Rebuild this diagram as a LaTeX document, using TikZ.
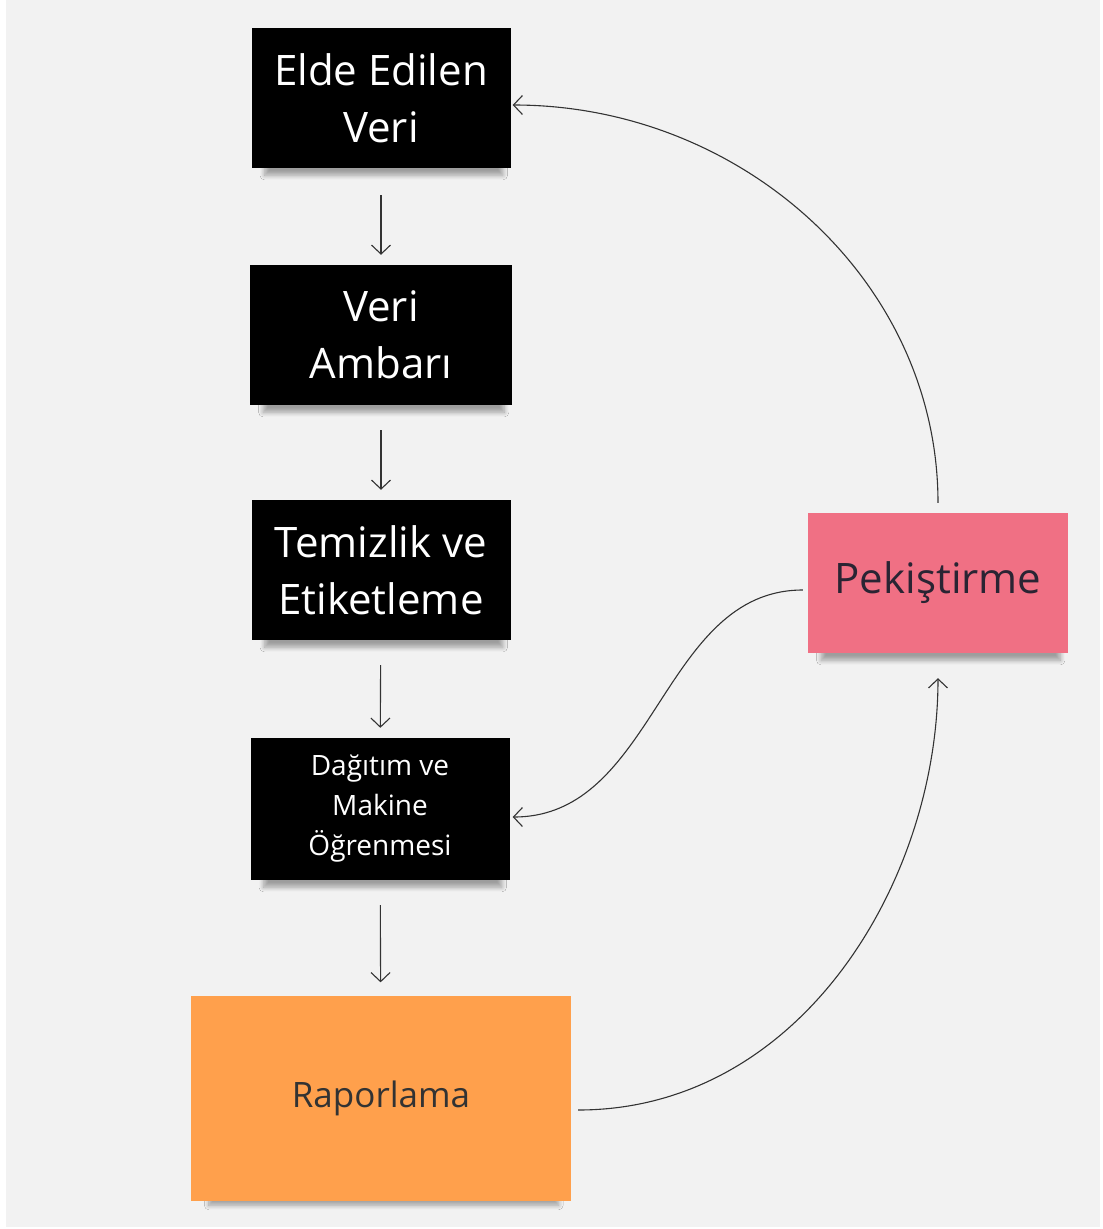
\documentclass[tikz,border=0pt]{standalone}
\usepackage{fontspec}
\setmainfont{Open Sans}
\usetikzlibrary{arrows.meta,shadows.blur}
\definecolor{boardgray}{HTML}{F2F2F2}
\definecolor{notepink}{HTML}{F07084}
\definecolor{noteorange}{HTML}{FFA04C}
\definecolor{inkgray}{HTML}{333333}
\definecolor{inkdark}{HTML}{2A2433}

\begin{document}
\begin{tikzpicture}[
		x=1pt, y=-1pt,
		note/.style={rectangle, inner sep=0pt, align=center,
			blur shadow={shadow xshift=3pt, shadow yshift=-14pt, shadow scale=0.92, shadow blur steps=8,
				shadow blur radius=5pt, shadow opacity=35}},
		stage/.style={note, fill=black, text=white, minimum width=259pt, minimum height=140pt,
			font=\fontsize{42}{57}\selectfont},
		flow/.style={draw=inkgray, line width=1.1pt, -{Straight Barb[length=9pt,width=19pt]}}
		]
		\fill[white] (0,0) rectangle (1103,1229);
		\fill[boardgray] (6,0) rectangle (1100,1227);
		\useasboundingbox (0,0) rectangle (1103,1229);

		\node[stage] (elde) at (381,98) {Elde Edilen\\Veri};
		\node[stage, minimum width=262pt] (ambar) at (381,335) {Veri\\Ambarı};
		\node[stage] (temiz) at (381,570) {Temizlik ve\\Etiketleme};
		\node[stage, minimum height=142pt, font=\fontsize{28}{40}\selectfont] (dagitim) at (380,809)
			{Dağıtım ve\\Makine\\Öğrenmesi};
		\node[note, fill=noteorange, text=inkgray, minimum width=380pt, minimum height=205pt,
			font=\fontsize{35}{42}\selectfont] (rapor) at (381,1098) {Raporlama};
		\node[note, fill=notepink, text=inkdark, minimum width=260pt, minimum height=140pt,
			font=\fontsize{42}{50}\selectfont] (pekis) at (938,583) {Pekiştirme};

		\draw[flow, shorten <=27pt, shorten >=10pt] (elde) -- (ambar);
		\draw[flow, shorten <=25pt, shorten >=10pt] (ambar) -- (temiz);
		\draw[flow, shorten <=25pt, shorten >=10pt] (temiz) -- (dagitim);
		\draw[flow, shorten <=25pt, shorten >=13pt] (dagitim) -- (rapor);

		\draw[flow, shorten <=10pt, shorten >=2pt] (pekis.north) to[out=90, in=0] ([yshift=-7pt]elde.east);
		\draw[flow, shorten <=5pt, shorten >=3pt] ([yshift=-7pt]pekis.west) to[out=180, in=0] ([yshift=-8pt]dagitim.east);
		\draw[flow, shorten <=7pt, shorten >=25pt] ([yshift=-12pt]rapor.east) to[out=0, in=-90] (pekis.south);
\end{tikzpicture}
\end{document}
